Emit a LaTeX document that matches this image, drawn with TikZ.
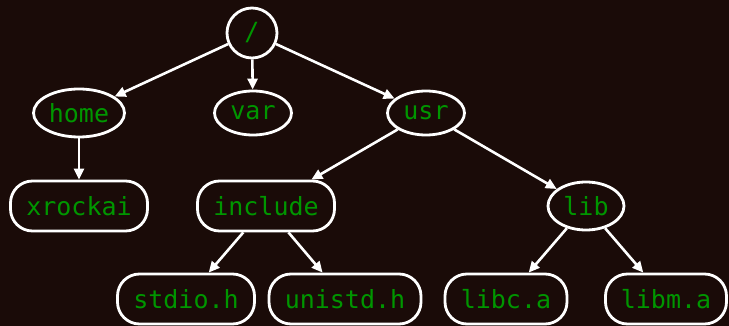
\documentclass[tikz,border=0pt]{standalone}
\usepackage{fontspec}
\setmonofont{DejaVu Sans Mono}
\usetikzlibrary{shapes.geometric,arrows.meta}
\definecolor{bg}{RGB}{26,11,8}
\definecolor{txt}{RGB}{0,150,0}
\tikzset{
  base/.style={draw=white, line width=2.8pt, text=txt, font=\ttfamily\fontsize{25}{29}\selectfont, inner sep=0pt},
  ell/.style={base, ellipse},
  box/.style={base, rectangle, rounded corners=22pt, minimum height=50pt},
  edge/.style={draw=white, line width=2.6pt, -{Triangle[length=11pt,width=10pt]}}
}
\begin{document}
\begin{tikzpicture}[x=1pt,y=-1pt]
\fill[bg] (0,0) rectangle (729,326);
\useasboundingbox (0,0) rectangle (729,326);
\node[ell, minimum width=50pt, minimum height=50pt] (root) at (252,33) {/};
\node[ell, minimum width=91pt, minimum height=48pt] (home) at (79,113) {home};
\node[ell, minimum width=77pt, minimum height=44pt] (var) at (253,113) {var};
\node[ell, minimum width=77pt, minimum height=44pt] (usr) at (426,113) {usr};
\node[box, minimum width=137pt] (xrockai) at (79,206) {xrockai};
\node[box, minimum width=137pt] (include) at (266,206) {include};
\node[ell, minimum width=76pt, minimum height=48pt] (lib) at (586,206) {lib};
\node[box, minimum width=137pt] (stdio) at (186,299) {stdio.h};
\node[box, minimum width=152pt] (unistd) at (345,299) {unistd.h};
\node[box, minimum width=122pt] (libc) at (506,299) {libc.a};
\node[box, minimum width=121pt] (libm) at (666,299) {libm.a};
\draw[edge] (root) -- (home);
\draw[edge] (root) -- (var);
\draw[edge] (root) -- (usr);
\draw[edge] (home) -- (xrockai);
\draw[edge] (usr) -- (include);
\draw[edge] (usr) -- (lib);
\draw[edge] (include) -- (stdio);
\draw[edge] (include) -- (unistd);
\draw[edge] (lib) -- (libc);
\draw[edge] (lib) -- (libm);
\end{tikzpicture}
\end{document}
